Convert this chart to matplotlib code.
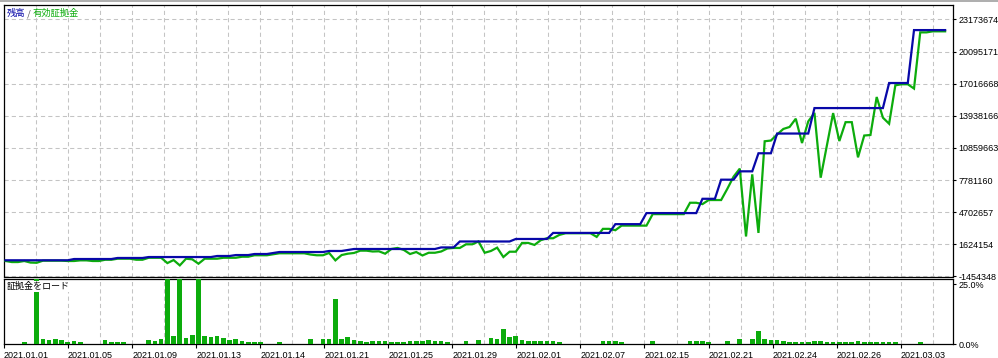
import matplotlib
matplotlib.use("Agg")
import matplotlib.pyplot as plt
from matplotlib.lines import Line2D
import numpy as np

# ---------------- data ----------------
# balance and equity per deal, in millions
balance_m = [
    0.10, 0.10, 0.10, 0.10, 0.10, 0.10, 0.10, 0.10, 0.10, 0.10, 0.10,
    0.22, 0.22, 0.22, 0.22, 0.22, 0.22, 0.22,
    0.32, 0.32, 0.32, 0.32, 0.32,
    0.41, 0.41, 0.41, 0.41, 0.41, 0.41, 0.41, 0.41, 0.41, 0.41, 0.41,
    0.51, 0.51, 0.51, 0.60, 0.60, 0.60, 0.70, 0.70, 0.70, 0.80,
    0.89, 0.89, 0.89, 0.89, 0.89, 0.89, 0.89, 0.89,
    0.99, 0.99, 0.99, 1.09,
    1.18, 1.18, 1.18, 1.18, 1.18, 1.18, 1.18, 1.18, 1.18, 1.18, 1.18, 1.18, 1.18, 1.18,
    1.33, 1.33, 1.33,
    1.90, 1.90, 1.90, 1.90, 1.90, 1.90, 1.90, 1.90, 1.90,
    2.14, 2.14, 2.14, 2.14, 2.14, 2.14,
    2.72, 2.72, 2.72, 2.72, 2.72, 2.72, 2.72, 2.72, 2.72, 2.72,
    3.56, 3.56, 3.56, 3.56, 3.56,
    4.62, 4.62, 4.62, 4.62, 4.62, 4.62, 4.62, 4.62, 4.62,
    5.99, 5.99, 5.99, 7.82, 7.82, 7.82, 8.62, 8.62, 8.62,
    10.35, 10.35, 10.35,
    12.24, 12.24, 12.24, 12.24, 12.24, 12.24,
    14.68, 14.68, 14.68, 14.68, 14.68, 14.68, 14.68, 14.68, 14.68, 14.68, 14.68, 14.68,
    17.08, 17.08, 17.08, 17.08,
    22.15, 22.15, 22.15, 22.15, 22.15, 22.15,
]
equity_m = [
    0.03, -0.07, -0.07, 0.03, -0.12, -0.14, 0.06, 0.06, 0.06, 0.06,
    0.03, 0.03, 0.09, 0.09, 0.03, 0.03, 0.15, 0.15, 0.25, 0.25,
    0.25, 0.15, 0.15, 0.34, 0.34, 0.34, -0.17, 0.12, -0.39, 0.25,
    0.19, -0.23, 0.25, 0.25, 0.25, 0.34, 0.34, 0.34, 0.44, 0.44,
    0.58, 0.58, 0.58, 0.67, 0.77, 0.77, 0.77, 0.77, 0.77, 0.65,
    0.58, 0.58, 0.80, 0.09, 0.60, 0.73, 0.80, 1.02, 1.02, 0.94,
    0.96, 0.73, 1.18, 1.28, 1.09, 0.70, 0.89, 0.56, 0.82, 0.82,
    0.94, 1.23, 1.28, 1.28, 1.63, 1.63, 1.90, 0.82, 0.99, 1.31,
    0.41, 0.92, 0.92, 1.76, 1.76, 1.57, 2.02, 2.21, 2.21, 2.53,
    2.69, 2.69, 2.69, 2.69, 2.69, 2.34, 3.11, 3.11, 2.98, 3.42,
    3.42, 3.42, 3.42, 3.42, 4.52, 4.52, 4.52, 4.52, 4.52, 4.52,
    5.61, 5.61, 5.48, 5.87, 5.87, 5.87, 6.95, 8.11, 8.88, 2.38,
    8.33, 2.72, 11.50, 11.57, 12.15, 12.68, 12.87, 13.66, 11.33, 13.40,
    14.22, 8.01, 11.09, 14.20, 11.52, 13.33, 13.33, 9.96, 12.05, 12.10,
    15.74, 13.76, 13.18, 16.86, 16.96, 16.96, 16.55, 21.93, 21.93, 22.03,
    22.03, 22.03,
]
# deposit load (%) per deal
load_deals = [3, 5, 6, 7, 8, 9, 10, 11, 12, 16, 17, 18, 19, 23, 24, 25, 26, 27, 28, 29,
              30, 31, 32, 33, 34, 35, 36, 37, 38, 39, 40, 41, 44, 49, 51, 52, 53, 54, 55, 56,
              57, 58, 59, 60, 61, 62, 63, 64, 65, 66, 67, 68, 69, 70, 71, 74, 76, 78, 79, 80,
              81, 82, 83, 84, 85, 86, 87, 88, 89, 96, 97, 98, 99, 104, 110, 111, 112, 113, 116, 118,
              120, 121, 122, 123, 124, 125, 126, 127, 128, 129, 130, 131, 132, 133, 134, 135, 136, 137, 138, 139,
              140, 141, 142, 143, 147]
load_pct = [0.8, 30, 2.1, 1.7, 2.1, 1.7, 0.8, 1.3, 0.8, 1.7, 0.8, 0.8, 0.8, 1.7, 1.3, 2.1, 30, 3.4, 30, 2.5,
            3.8, 30, 3.4, 2.9, 3.4, 2.5, 1.7, 2.1, 1.3, 0.8, 0.8, 0.8, 0.8, 2.1, 2.1, 2.1, 18.9, 2.1, 2.9, 1.7,
            1.3, 0.8, 1.3, 1.3, 1.3, 0.8, 0.8, 0.8, 1.3, 1.3, 1.3, 1.7, 1.3, 1.3, 0.8, 1.3, 1.7, 2.5, 2.1, 6.3,
            2.9, 3.4, 1.7, 1.3, 1.3, 1.3, 1.3, 1.3, 0.8, 1.3, 1.3, 1.3, 0.8, 1.3, 1.3, 1.3, 1.3, 0.8, 1.3, 2.1,
            2.1, 5.5, 2.1, 1.7, 1.7, 1.3, 0.8, 0.8, 0.8, 0.8, 1.3, 1.3, 0.8, 0.8, 0.8, 0.8, 0.8, 1.3, 0.8, 0.8,
            0.8, 0.8, 0.8, 0.8, 0.8]

date_labels = ["2021.01.01", "2021.01.05", "2021.01.09", "2021.01.13", "2021.01.14",
               "2021.01.21", "2021.01.25", "2021.01.29", "2021.02.01", "2021.02.07",
               "2021.02.15", "2021.02.21", "2021.02.24", "2021.02.26", "2021.03.03"]
y_tick_values = [-1454348, 1624154, 4702657, 7781160, 10859663,
                 13938166, 17016668, 20095171, 23173674]
y_tick_labels = [str(v) for v in y_tick_values]
load_ticks = [0, 25]
load_tick_labels = ["0.0%", "25.0%"]

# ---------------- style ----------------
BLUE = "#0808A8"
GREEN = "#0CAC0C"
GRID = "#C4C4C4"
NUMFONT = ["Liberation Sans", "DejaVu Sans"]
JPFONT = ["Noto Sans CJK JP", "DejaVu Sans"]
FS = 6.5

W, H = 998, 358
fig = plt.figure(figsize=(W / 100, H / 100), dpi=100)
fig.patch.set_facecolor("white")

def fx(px):
    return px / W

def fy(py):
    return 1 - py / H

L, R = 3.5, 953.0
ax1 = fig.add_axes([fx(L), fy(276.5), (R - L) / W, (276.5 - 5) / H])
ax2 = fig.add_axes([fx(L), fy(344.0), (R - L) / W, (344 - 278.5) / H])

deal = np.arange(len(balance_m))
X0, P = 5.6, 6.222  # pixel of first deal, pixels per deal
xmin, xmax = (L - X0) / P, (R - X0) / P

major = [(3.975 + 64.05 * j - X0) / P for j in range(15)]
minor = [(36.0 + 64.05 * j - X0) / P for j in range(15)]

for ax in (ax1, ax2):
    ax.set_xlim(xmin, xmax)
    ax.set_facecolor("white")
    for s in ax.spines.values():
        s.set_color("black")
        s.set_linewidth(0.9)
    ax.set_xticks(major)
    ax.set_xticks(minor, minor=True)
    ax.grid(True, which="both", axis="x", color=GRID, linestyle=(0, (4, 3)), linewidth=0.75)
    ax.set_axisbelow(True)
    ax.tick_params(axis="x", which="minor", length=0)

# main panel
eq = np.array(equity_m) * 1e6
bal = np.array(balance_m) * 1e6
ax1.plot(deal, eq, color=GREEN, lw=1.6, solid_joinstyle="miter", zorder=3)
ax1.plot(deal, bal, color=BLUE, lw=1.6, solid_joinstyle="miter", zorder=4)
ax1.set_ylim(-1454348, 24553000)
ax1.yaxis.tick_right()
ax1.set_yticks(y_tick_values, y_tick_labels)
ax1.grid(True, axis="y", color=GRID, linestyle=(0, (4, 3)), linewidth=0.75)
ax1.tick_params(axis="y", length=2.5, width=0.8, pad=1.5, labelsize=FS, direction="out")
ax1.tick_params(axis="x", which="major", length=0, labelbottom=False)
for t in ax1.get_yticklabels():
    t.set_fontfamily(NUMFONT)

# legend-like title
bb = dict(facecolor="white", edgecolor="none", pad=0.5)
t1 = ax1.text(fx(6.5), fy(13.5), "残高", transform=fig.transFigure, color=BLUE,
              fontsize=6.7, family=JPFONT, va="center", ha="left", zorder=6)
t2 = ax1.annotate(" / ", xy=(1, 0), xycoords=t1, color="#505050",
                  fontsize=6.7, family=JPFONT, va="bottom", ha="left", zorder=6)
t3 = ax1.annotate("有効証拠金", xy=(1, 0), xycoords=t2, color=GREEN,
                  fontsize=6.7, family=JPFONT, va="bottom", ha="left", zorder=6)

# lower panel
ax2.bar(load_deals, load_pct, width=0.75, color=GREEN, linewidth=0, zorder=3)
ax2.set_ylim(0, 27.3)
ax2.yaxis.tick_right()
ax2.set_yticks(load_ticks, load_tick_labels)
ax2.tick_params(axis="y", length=2.5, width=0.8, pad=1.5, labelsize=FS, direction="out")
ax2.set_xticks(major, date_labels)
ax2.tick_params(axis="x", which="major", length=3, width=0.8, pad=2, labelsize=FS, direction="out")
for t in ax2.get_xticklabels():
    t.set_ha("left")
    t.set_fontfamily(NUMFONT)
for t in ax2.get_yticklabels():
    t.set_fontfamily(NUMFONT)
ax2.text(fx(6.5), fy(286.5), "証拠金をロード", transform=fig.transFigure, color="black",
         fontsize=6.5, family=JPFONT, va="center", ha="left", zorder=6, bbox=bb)

# window frame line at the top
fig.add_artist(Line2D([0, 1], [fy(0.6), fy(0.6)], transform=fig.transFigure,
                      color="#A0A0A0", lw=1.2))

fig.savefig("out.png", dpi=100, facecolor="white")
